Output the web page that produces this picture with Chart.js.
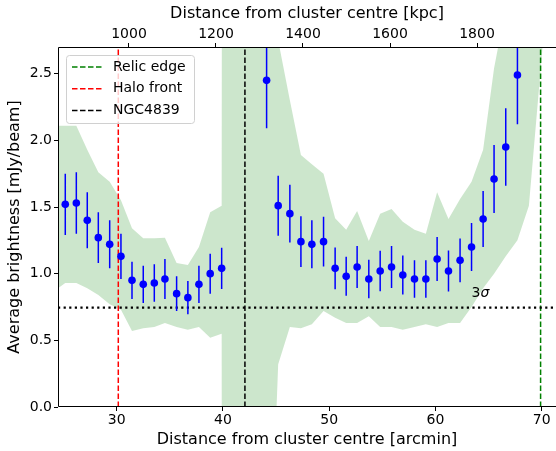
<!DOCTYPE html>
<html lang="en">
<head>
<meta charset="UTF-8">
<title>Average brightness profile</title>
<script src="https://cdn.jsdelivr.net/npm/chart.js"></script>
<style>
  html, body { margin: 0; padding: 0; background: #fff; }
  #wrap { width: 556px; height: 451px; }
</style>
</head>
<body>
<div id="wrap"><canvas id="profile" width="556" height="451"></canvas></div>
<script>
// measured profile
const distArcmin = [25.16, 26.20, 27.23, 28.27, 29.34, 30.40, 31.44, 32.50, 33.54, 34.54, 35.64, 36.70, 37.74, 38.80, 39.88,
                    44.11, 45.20, 46.30, 47.34, 48.37, 49.47, 50.56, 51.60, 52.63, 53.73, 54.80, 55.87, 56.93, 58.03, 59.10,
                    60.16, 61.23, 62.32, 63.40, 64.49, 65.52, 66.62, 67.72];
const brightness = [1.52, 1.53, 1.40, 1.27, 1.22, 1.13, 0.95, 0.92, 0.93, 0.96, 0.85, 0.82, 0.92, 1.00, 1.04,
                    2.45, 1.51, 1.45, 1.24, 1.22, 1.24, 1.04, 0.98, 1.05, 0.96, 1.02, 1.05, 0.99, 0.96, 0.96,
                    1.11, 1.02, 1.10, 1.20, 1.41, 1.71, 1.95, 2.49];
const brightErr = [0.23, 0.23, 0.21, 0.19, 0.18, 0.17, 0.14, 0.14, 0.14, 0.15, 0.13, 0.125, 0.14, 0.15, 0.155,
                   0.36, 0.225, 0.216, 0.19, 0.18, 0.186, 0.156, 0.146, 0.158, 0.144, 0.152, 0.157, 0.147, 0.14, 0.14,
                   0.165, 0.153, 0.164, 0.18, 0.21, 0.255, 0.29, 0.37];

// shaded band (green)
const bandArcmin = [24.10, 25.16, 26.20, 27.23, 28.27, 29.34, 30.40, 31.44, 32.50, 33.54, 34.54, 35.64, 36.70, 37.74, 38.80,
                    39.88, 40.94, 42.00, 43.05, 44.11, 45.20, 46.30, 47.34, 48.37, 49.47, 50.56, 51.60, 52.63, 53.73,
                    54.80, 55.87, 56.93, 58.03, 59.10, 60.16, 61.23, 62.32, 63.40, 64.49, 65.52, 66.62, 67.72, 68.80,
                    69.87, 70.93, 72.00];
const bandHigh = [2.11, 2.11, 2.11, 1.93, 1.76, 1.69, 1.55, 1.34, 1.265, 1.265, 1.27, 1.08, 1.065, 1.20, 1.46,
                  1.51, 99, 99, 99, 99, 2.75, 2.30, 1.89, 1.82, 1.75, 1.415, 1.33, 1.47, 1.245,
                  1.45, 1.485, 1.39, 1.33, 1.30, 1.61, 1.41, 1.56, 1.69, 1.93, 2.54, 3.0, 3.5, 4.0,
                  4.5, 5.0, 5.5];
const bandLow = [0.87, 0.93, 0.93, 0.89, 0.84, 0.77, 0.73, 0.57, 0.59, 0.60, 0.63, 0.60, 0.58, 0.60, 0.52,
                 0.55, -99, -99, -99, -2.0, 0.32, 0.60, 0.59, 0.62, 0.72, 0.67, 0.63, 0.63, 0.68,
                 0.60, 0.60, 0.58, 0.60, 0.62, 0.60, 0.63, 0.63, 0.75, 0.89, 1.00, 1.13, 1.25, 1.51,
                 2.50, 3.5, 4.5];

const relicEdge = 69.9;
const haloFront = 30.15;
const ngc4839 = 42.07;
const sigma3 = 0.745;

const xRange = [24.475, 71.35];
const kpcRange = [836.8, 1981.6];
const yRange = [0, 2.7];
const xTicks = [30, 40, 50, 60, 70];
const kpcTicks = [1000, 1200, 1400, 1600, 1800];
const yTicks = [0, 0.5, 1.0, 1.5, 2.0, 2.5];

const FONT = "'DejaVu Sans', sans-serif";

const points = distArcmin.map((x, i) => ({x, y: brightness[i]}));
const errSegs = [];
distArcmin.forEach((x, i) => {
    errSegs.push({x, y: brightness[i] - brightErr[i]});
    errSegs.push({x, y: brightness[i] + brightErr[i]});
    errSegs.push({x, y: null});
});
const vline = x => [{x, y: yRange[0]}, {x, y: yRange[1]}];

const datasets = [
    {data: points, showLine: false, pointRadius: 3.8, pointBackgroundColor: 'blue', pointBorderWidth: 0, order: 0},
    {data: errSegs, borderColor: 'blue', borderWidth: 1.5, pointRadius: 0, spanGaps: false, order: 1},
    {data: [{x: xRange[0], y: sigma3}, {x: xRange[1], y: sigma3}], borderColor: '#000', borderWidth: 2.2,
     borderDash: [2.2, 3.4], pointRadius: 0, order: 2},
    {label: 'Relic edge', legend: true, data: vline(relicEdge), borderColor: 'green', borderWidth: 1.5,
     borderDash: [5.5, 2.5], pointRadius: 0, order: 3},
    {label: 'Halo front', legend: true, data: vline(haloFront), borderColor: 'red', borderWidth: 1.5,
     borderDash: [5.5, 2.5], pointRadius: 0, order: 3},
    {label: 'NGC4839', legend: true, data: vline(ngc4839), borderColor: 'black', borderWidth: 1.5,
     borderDash: [5.5, 2.5], pointRadius: 0, order: 3},
    {data: bandArcmin.map((x, i) => ({x, y: bandHigh[i]})), borderWidth: 0, pointRadius: 0, order: 9},
    {data: bandArcmin.map((x, i) => ({x, y: bandLow[i]})), borderWidth: 0, pointRadius: 0,
     fill: '-1', backgroundColor: 'rgba(0,128,0,0.2)', order: 9}
];

const extras = {
    id: 'extras',
    afterDraw(chart) {
        const {ctx, chartArea: a, scales} = chart;
        ctx.save();
        // spines: left, top, bottom (the right one falls outside the figure)
        ctx.strokeStyle = '#000';
        ctx.lineWidth = 1;
        ctx.beginPath();
        ctx.moveTo(a.right, a.top + 0.5);
        ctx.lineTo(a.left + 0.5, a.top + 0.5);
        ctx.lineTo(a.left + 0.5, a.bottom - 0.5);
        ctx.lineTo(a.right, a.bottom - 0.5);
        ctx.stroke();

        // 3 sigma label
        const tx = scales.x.getPixelForValue(63.4);
        const ty = scales.y.getPixelForValue(0.853);
        ctx.fillStyle = '#000';
        ctx.textBaseline = 'middle';
        ctx.textAlign = 'left';
        ctx.font = '14px ' + FONT;
        ctx.fillText('3', tx, ty);
        const w3 = ctx.measureText('3').width;
        ctx.font = 'italic 14px ' + FONT;
        ctx.fillText('σ', tx + w3, ty);

        // legend
        const items = chart.data.datasets.filter(d => d.legend);
        const bx = a.left + 8, by = a.top + 8, bw = 128, bh = 68;
        ctx.fillStyle = 'rgba(255,255,255,0.8)';
        ctx.strokeStyle = '#d0d0d0';
        ctx.lineWidth = 1;
        ctx.beginPath();
        ctx.roundRect(bx + 0.5, by + 0.5, bw, bh, 3);
        ctx.fill();
        ctx.stroke();
        ctx.font = '14px ' + FONT;
        items.forEach((d, i) => {
            const ly = by + 12 + i * 21.7;
            ctx.strokeStyle = d.borderColor;
            ctx.lineWidth = 1.5;
            ctx.setLineDash([5.5, 2.5]);
            ctx.beginPath();
            ctx.moveTo(bx + 6, ly);
            ctx.lineTo(bx + 36, ly);
            ctx.stroke();
            ctx.setLineDash([]);
            ctx.fillStyle = '#000';
            ctx.fillText(d.label, bx + 47, ly);
        });
        ctx.restore();
    }
};

const tickFont = {family: FONT, size: 14};
const titleFont = {family: FONT, size: 16};
const gridOpts = {drawOnChartArea: false, drawTicks: true, tickLength: 4, color: '#000', tickColor: '#000'};

// keep the plot area edge-to-edge like the original figure
const noSidePad = s => { s.paddingLeft = 0; s.paddingRight = 0; };

new Chart(document.getElementById('profile'), {
    type: 'line',
    data: {datasets},
    options: {
        responsive: false,
        animation: false,
        devicePixelRatio: 1,
        layout: {autoPadding: false, padding: 0},
        plugins: {legend: {display: false}, tooltip: {enabled: false}},
        elements: {line: {tension: 0}},
        scales: {
            x: {
                type: 'linear', position: 'bottom', min: xRange[0], max: xRange[1],
                afterBuildTicks: s => { s.ticks = xTicks.map(v => ({value: v})); },
                afterFit: s => { s.height = 44; noSidePad(s); },
                ticks: {font: tickFont, color: '#000', padding: 1, maxRotation: 0, callback: v => String(v)},
                grid: gridOpts, border: {display: false},
                title: {display: true, text: 'Distance from cluster centre [arcmin]', font: titleFont, color: '#000',
                        padding: {top: 0, bottom: 1.4}}
            },
            x2: {
                type: 'linear', position: 'top', min: kpcRange[0], max: kpcRange[1],
                afterBuildTicks: s => { s.ticks = kpcTicks.map(v => ({value: v})); },
                afterFit: s => { s.height = 47; noSidePad(s); },
                ticks: {font: tickFont, color: '#000', padding: 0, maxRotation: 0, callback: v => String(v)},
                grid: gridOpts, border: {display: false},
                title: {display: true, text: 'Distance from cluster centre [kpc]', font: titleFont, color: '#000',
                        padding: {top: 4.4, bottom: 0}}
            },
            y: {
                type: 'linear', position: 'left', min: yRange[0], max: yRange[1],
                afterBuildTicks: s => { s.ticks = yTicks.map(v => ({value: v})); },
                afterFit: s => { s.width = 58; },
                ticks: {font: tickFont, color: '#000', padding: 2, callback: v => v.toFixed(1)},
                grid: gridOpts, border: {display: false},
                title: {display: true, text: 'Average brightness [mJy/beam]', font: titleFont, color: '#000',
                        padding: {top: 5.5, bottom: 0}}
            }
        }
    },
    plugins: [extras]
});
</script>
</body>
</html>
